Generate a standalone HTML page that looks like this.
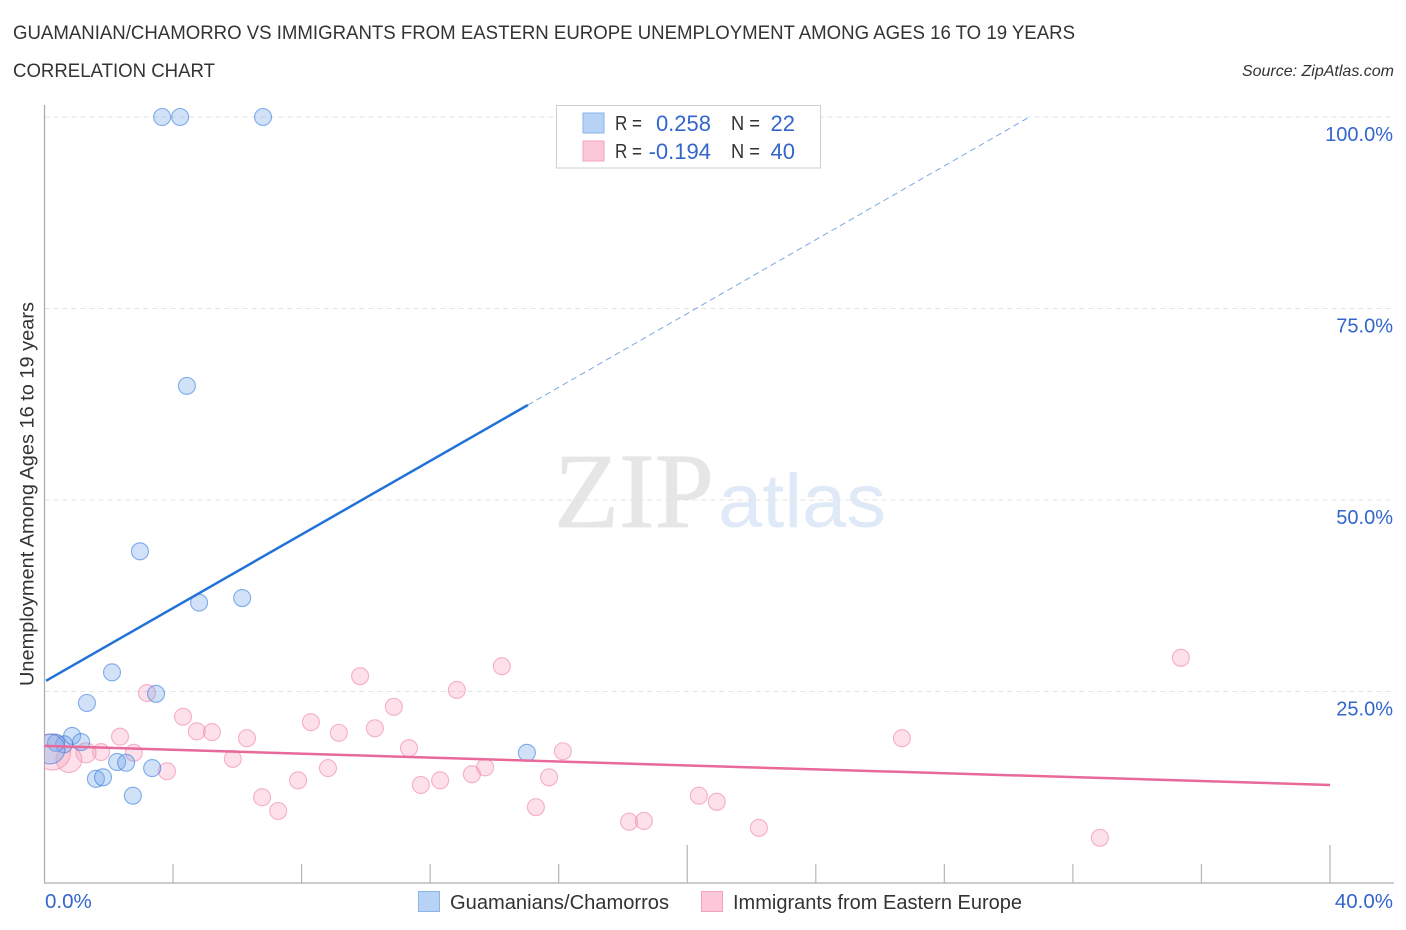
<!DOCTYPE html>
<html lang="en">
<head>
<meta charset="utf-8">
<title>Guamanian/Chamorro vs Immigrants from Eastern Europe Unemployment</title>
<style>
html,body{margin:0;padding:0;background:#fff;width:1406px;height:930px;overflow:hidden}
svg{display:block;font-family:"Liberation Sans",sans-serif}
</style>
</head>
<body>
<svg id="chart" width="1406" height="930" viewBox="0 0 1406 930" xmlns="http://www.w3.org/2000/svg">
  <defs>
    <clipPath id="plot-clip"><rect x="44.5" y="100" width="1350" height="783"/></clipPath>
  </defs>
  <rect x="0" y="0" width="1406" height="930" fill="#fff"/>
  <text x="13" y="39" font-size="19" fill="#333" textLength="1062" lengthAdjust="spacingAndGlyphs">GUAMANIAN/CHAMORRO VS IMMIGRANTS FROM EASTERN EUROPE UNEMPLOYMENT AMONG AGES 16 TO 19 YEARS</text>
  <text x="13" y="77" font-size="19" fill="#333" textLength="202" lengthAdjust="spacingAndGlyphs">CORRELATION CHART</text>
  <text x="1394" y="76" font-size="16" font-style="italic" fill="#333" text-anchor="end">Source: ZipAtlas.com</text>

  <g>
    <text x="554" y="527" font-family="'Liberation Serif',serif" font-size="107" fill="#e6e6e6" stroke="#e6e6e6" stroke-width="0.8" textLength="160" lengthAdjust="spacingAndGlyphs">ZIP</text>
    <text x="718" y="527" font-family="'Liberation Sans',sans-serif" font-size="76" fill="#dfe9f7" textLength="168" lengthAdjust="spacingAndGlyphs">atlas</text>
  </g>

  <g id="grid"></g>
  <g id="axes"></g>
  <g id="points" clip-path="url(#plot-clip)"></g>
  <g id="trends"></g>
  <g id="labels"></g>

  <text transform="translate(33.5,494) rotate(-90)" font-size="19" fill="#333" text-anchor="middle" textLength="384" lengthAdjust="spacingAndGlyphs">Unemployment Among Ages 16 to 19 years</text>

  <g>
    <rect x="556.5" y="105.5" width="264" height="62.5" fill="#fff" stroke="#d0d0d0" stroke-width="1"/>
    <rect x="583" y="113" width="21" height="20" fill="#b7d2f5" stroke="#8ab4ea" stroke-width="1"/>
    <rect x="583" y="141" width="21" height="20" fill="#fcc8d9" stroke="#f2a3bd" stroke-width="1"/>
    <g font-size="20" fill="#333">
      <text x="615" y="130" textLength="27" lengthAdjust="spacingAndGlyphs">R =</text>
      <text x="731" y="130" textLength="29" lengthAdjust="spacingAndGlyphs">N =</text>
      <text x="615" y="158" textLength="27" lengthAdjust="spacingAndGlyphs">R =</text>
      <text x="731" y="158" textLength="29" lengthAdjust="spacingAndGlyphs">N =</text>
    </g>
    <g font-size="22" fill="#3366cc" text-anchor="end">
      <text x="711" y="131">0.258</text>
      <text x="795" y="131">22</text>
      <text x="711" y="159">-0.194</text>
      <text x="795" y="159">40</text>
    </g>
  </g>

  <g>
    <rect x="418.5" y="891.5" width="21" height="20" fill="#b7d2f5" stroke="#8ab4ea" stroke-width="1"/>
    <text x="450" y="909" font-size="20" fill="#333" textLength="219" lengthAdjust="spacingAndGlyphs">Guamanians/Chamorros</text>
    <rect x="701.5" y="891.5" width="21" height="20" fill="#fcc8d9" stroke="#f2a3bd" stroke-width="1"/>
    <text x="733" y="909" font-size="20" fill="#333" textLength="289" lengthAdjust="spacingAndGlyphs">Immigrants from Eastern Europe</text>
  </g>
</svg>

<script>
var blueX = [3.66,4.22,6.80,4.43,2.97,4.81,6.15,2.10,3.47,1.32,0.86,1.14,0.61,0.36,0.17,2.26,2.54,3.35,1.60,1.82,2.75,15.01];
var blueY = [100,100,100,64.9,43.3,36.6,37.2,27.5,24.7,23.5,19.2,18.4,18.1,18.3,17.5,15.8,15.7,15.0,13.6,13.8,11.4,17.0];
var blueWeight = [1,1,1,1,1,1,1,1,1,1,1,1,1,1,3.1,1,1,1,1,1,1,1];

var pinkX = [3.19,4.31,4.74,5.21,2.35,2.78,1.76,1.29,0.76,0.25,3.81,5.86,6.30,6.77,7.27,7.89,8.29,8.82,9.16,9.82,10.28,10.87,11.34,11.71,12.31,12.83,13.30,13.71,14.23,15.29,15.70,16.13,18.19,18.65,20.36,20.92,22.23,26.68,32.84,35.36];
var pinkY = [24.8,21.7,19.8,19.7,19.1,17.0,17.1,17.0,16.1,17.1,14.6,16.2,18.9,11.2,9.4,13.4,21.0,15.0,19.6,27.0,20.2,23.0,17.6,12.8,13.4,25.2,14.2,15.1,28.3,9.9,13.8,17.2,8.0,8.1,11.4,10.6,7.2,18.9,5.9,29.4];
var pinkWeight = [1,1,1,1,1,1,1,1.4,2.3,4.5,1,1,1,1,1,1,1,1,1,1,1,1,1,1,1,1,1,1,1,1,1,1,1,1,1,1,1,1,1,1];

var blueTrendX = [0, 15.04, 30.65];
var blueTrendY = [26.4, 62.4, 100];
var pinkTrendX = [0, 40];
var pinkTrendY = [17.9, 12.8];

var yTicks = [100, 75, 50, 25];
var yTickLabels = ["100.0%", "75.0%", "50.0%", "25.0%"];
var xTicks = [0, 4, 8, 12, 16, 20, 24, 28, 32, 36, 40];
var xMajorTicks = [20, 40];
var xEndTicks = [0, 40];
var xEndLabels = ["0.0%", "40.0%"];

var NS = "http://www.w3.org/2000/svg";
function xScale(v) { return 44.5 + v * (1330 - 44.5) / 40; }
function yScale(v) { return 883 - v * (883 - 117) / 100; }
function rScale(w) { return 8.5 * Math.sqrt(w); }
function make(tag, parent, attrs) {
  var el = document.createElementNS(NS, tag);
  for (var k in attrs) { el.setAttribute(k, attrs[k]); }
  parent.appendChild(el);
  return el;
}

var grid = document.getElementById("grid");
var axes = document.getElementById("axes");
var pts = document.getElementById("points");
var trends = document.getElementById("trends");
var labels = document.getElementById("labels");

yTicks.forEach(function (t) {
  var line = make("line", grid, {x1: 44.5, x2: 1394, y1: yScale(t), y2: yScale(t), stroke: "#e2e2e2", "stroke-width": 1, "stroke-dasharray": "5 4"});
  
  
});

var yAxis = make("line", axes, {x1: 44.5, x2: 44.5, y1: 105, y2: 883, stroke: "#aaa", "stroke-width": 1.2});


var xAxis = make("line", axes, {x1: 44, x2: 1394, y1: 883, y2: 883, stroke: "#bbb", "stroke-width": 1.5});


xTicks.forEach(function (t) {
  if (t === 0) { return; }
  var top = xMajorTicks.indexOf(t) >= 0 ? 845 : 864;
  var tick = make("line", axes, {x1: xScale(t), x2: xScale(t), y1: top, y2: 883, stroke: "#b5b5b5", "stroke-width": 1.2});
  
  
});

function drawSeries(xs, ys, ws, fill, stroke, name) {
  xs.forEach(function (x, i) {
    var c = make("circle", pts, {cx: xScale(x), cy: yScale(ys[i]), r: rScale(ws[i]), fill: fill, stroke: stroke, "stroke-width": 1.1});
    
    
  });
}
drawSeries(pinkX, pinkY, pinkWeight, "rgba(248,160,188,0.33)", "rgba(236,130,165,0.58)", "immigrants-point");
drawSeries(blueX, blueY, blueWeight, "rgba(120,170,235,0.35)", "rgba(50,120,220,0.58)", "guamanians-point");

var blueSolid = make("line", trends, {x1: xScale(blueTrendX[0]) + 1.5, y1: yScale(blueTrendY[0]), x2: xScale(blueTrendX[1]), y2: yScale(blueTrendY[1]), stroke: "#2272d8", "stroke-width": 2.5});


var blueDash = make("line", trends, {x1: xScale(blueTrendX[1]), y1: yScale(blueTrendY[1]), x2: xScale(blueTrendX[2]), y2: yScale(blueTrendY[2]), stroke: "#7aa8e2", "stroke-width": 1, "stroke-dasharray": "6 4"});


var pinkLine = make("line", trends, {x1: xScale(pinkTrendX[0]), y1: yScale(pinkTrendY[0]), x2: xScale(pinkTrendX[1]), y2: yScale(pinkTrendY[1]), stroke: "#e8699a", "stroke-width": 2.5});



yTicks.forEach(function (t, i) {
  var lab = make("text", labels, {x: 1393, y: yScale(t) + 24, "font-size": 20, fill: "#3366cc", "text-anchor": "end"});
  
  
  lab.textContent = yTickLabels[i];
});
xEndTicks.forEach(function (t, i) {
  var lab = make("text", labels, i === 0
    ? {x: xScale(t) + 0.5, y: 908, "font-size": 20.5, fill: "#3366cc"}
    : {x: 1393, y: 908, "font-size": 20.5, fill: "#3366cc", "text-anchor": "end"});
  
  
  lab.textContent = xEndLabels[i];
});
</script>
</body>
</html>
